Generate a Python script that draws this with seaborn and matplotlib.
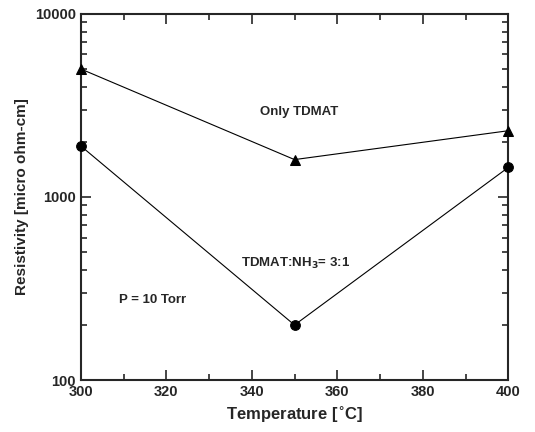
import numpy as np
import pandas as pd
import matplotlib.pyplot as plt
import seaborn as sns
from matplotlib.ticker import MultipleLocator, LogLocator, NullFormatter

sns.set_style("ticks")
plt.rcParams['font.family'] = ['Liberation Sans', 'DejaVu Sans']
plt.rcParams['font.weight'] = 'bold'

temperature = [300, 350, 400]
only_tdmat = [5000, 1600, 2300]
tdmat_nh3 = [1900, 200, 1450]

df = pd.concat([
    pd.DataFrame({"T": temperature, "rho": only_tdmat, "series": "Only TDMAT"}),
    pd.DataFrame({"T": temperature, "rho": tdmat_nh3, "series": "TDMAT:NH3 = 3:1"}),
])

fig = plt.figure(figsize=(5.35, 4.32), dpi=100)
ax = fig.add_axes([0.151, 0.120, 0.799, 0.848])

sns.lineplot(data=df, x="T", y="rho", style="series", markers=["^", "o"],
             dashes=False, color="black", linewidth=0.8, markersize=7,
             markeredgecolor="black", legend=False, ax=ax)
for ln in ax.lines:
    ln.set_clip_on(False)
    ln.set_zorder(5)

ax.set_yscale("log")
ax.set_xlim(300, 400)
ax.set_ylim(100, 10000)
ax.xaxis.set_major_locator(MultipleLocator(20))
ax.xaxis.set_minor_locator(MultipleLocator(10))
ax.yaxis.set_major_locator(LogLocator(base=10))
ax.yaxis.set_minor_locator(LogLocator(base=10, subs=np.arange(2, 10)))
ax.yaxis.set_minor_formatter(NullFormatter())
ax.yaxis.set_major_formatter(plt.FuncFormatter(lambda v, p: f"{int(v)}"))

ax.tick_params(which="both", direction="in", top=True, right=True,
               labelsize=10.5, width=1.2)
ax.tick_params(which="major", length=7)
ax.tick_params(which="minor", length=4)
for s in ax.spines.values():
    s.set_linewidth(1.5)
for lab in ax.get_xticklabels() + ax.get_yticklabels():
    lab.set_fontweight("bold")

ax.set_xlabel("Temperature [$^{\\circ}$C]", fontsize=12, fontweight="bold")
ax.set_ylabel("Resistivity [micro ohm-cm]", fontsize=11, fontweight="bold")

ax.text(342, 2900, "Only TDMAT", fontsize=9.5, fontweight="bold", va="center")
ax.text(337.5, 435, "TDMAT:NH$_3$= 3:1", fontsize=9.5, fontweight="bold", va="center")
ax.text(309, 273, "P = 10 Torr", fontsize=9.5, fontweight="bold", va="center")

fig.savefig("out.png", dpi=100)
